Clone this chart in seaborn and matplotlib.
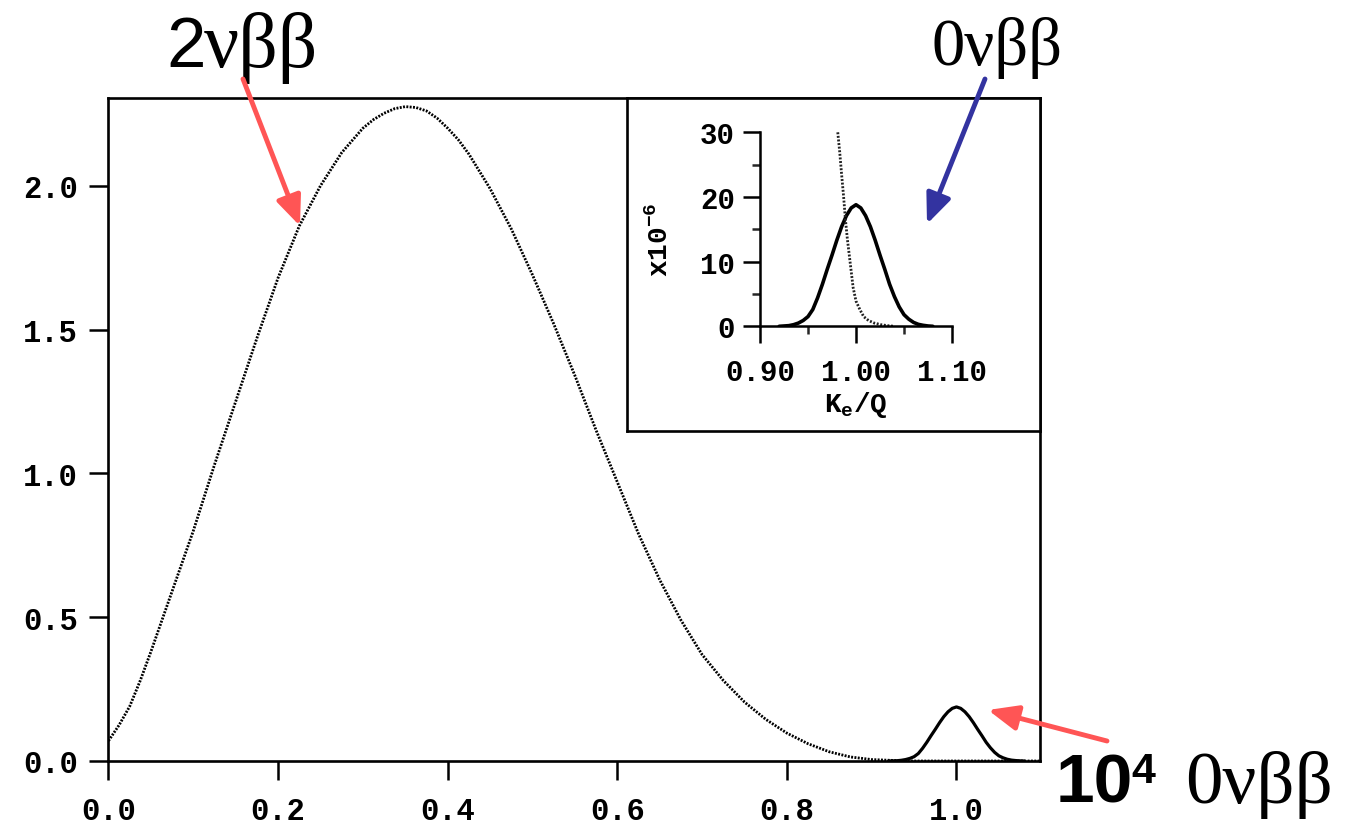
import numpy as np
import pandas as pd
import matplotlib
matplotlib.use("Agg")
import matplotlib.pyplot as plt
import seaborn as sns
from matplotlib.patches import FancyArrowPatch

sns.set_theme(style="ticks")
plt.rcParams['font.family'] = ['Liberation Mono', 'DejaVu Sans']
plt.rcParams['font.weight'] = 'bold'
plt.rcParams['text.color'] = 'black'
plt.rcParams['mathtext.fontset'] = 'custom'
plt.rcParams['mathtext.rm'] = 'Liberation Mono:bold'
plt.rcParams['mathtext.it'] = 'Liberation Mono:bold'
plt.rcParams['mathtext.bf'] = 'Liberation Mono:bold'

# 2vbb sum-energy spectrum (x = K_e/Q)
e_2nu = [0.0, 0.0125, 0.025, 0.0375, 0.05, 0.075, 0.10, 0.125, 0.15, 0.175,
         0.20, 0.225, 0.25, 0.275, 0.30, 0.3125, 0.325, 0.3375, 0.35, 0.3625,
         0.375, 0.3875, 0.40, 0.4125, 0.425, 0.45, 0.475, 0.50, 0.525, 0.55,
         0.575, 0.60, 0.625, 0.65, 0.675, 0.70, 0.725, 0.75, 0.775, 0.80,
         0.825, 0.85, 0.875, 0.90, 0.925, 0.95, 1.0, 1.1]
rate_2nu = [0.07, 0.125, 0.19, 0.28, 0.38, 0.59, 0.80, 1.03, 1.25, 1.47,
            1.68, 1.86, 2.00, 2.115, 2.20, 2.23, 2.252, 2.268, 2.275, 2.272,
            2.26, 2.235, 2.20, 2.16, 2.11, 1.99, 1.85, 1.69, 1.52, 1.34,
            1.15, 0.97, 0.79, 0.63, 0.49, 0.37, 0.28, 0.205, 0.145, 0.097,
            0.06, 0.032, 0.014, 0.005, 0.002, 0.0, 0.0, 0.0]

# 0vbb peak (inset, units of 1e-6)
e_0nu = [0.920, 0.925, 0.930, 0.935, 0.940, 0.945, 0.950, 0.955, 0.960, 0.965,
         0.970, 0.975, 0.980, 0.985, 0.990, 0.995, 1.000, 1.005, 1.010, 1.015,
         1.020, 1.025, 1.030, 1.035, 1.040, 1.045, 1.050, 1.055, 1.060, 1.065,
         1.070, 1.075, 1.080]
rate_0nu = [0.0, 0.05, 0.1, 0.25, 0.5, 0.9, 1.5, 2.6, 4.4, 6.5,
            8.8, 11.0, 13.3, 15.4, 17.1, 18.3, 18.8, 18.3, 17.1, 15.4,
            13.3, 11.0, 8.8, 6.5, 4.6, 3.0, 1.8, 1.1, 0.6, 0.3,
            0.15, 0.05, 0.0]

# smeared 2vbb tail near the endpoint (inset, units of 1e-6)
e_tail = [0.981, 0.983, 0.985, 0.987, 0.989, 0.991, 0.993, 0.995, 0.997, 1.000,
          1.004, 1.008, 1.013, 1.019, 1.026, 1.033, 1.040]
rate_tail = [30.0, 27.0, 23.5, 20.2, 16.5, 13.5, 11.0, 8.5, 6.0, 3.9,
             2.6, 1.5, 0.9, 0.5, 0.25, 0.1, 0.0]

df_2nu = pd.DataFrame({'x': e_2nu, 'y': rate_2nu})
df_0nu = pd.DataFrame({'x': e_0nu, 'y': rate_0nu})
df_main0 = pd.DataFrame({'x': e_0nu, 'y': np.array(rate_0nu) * 1e-6 * 1e4})
df_tail = pd.DataFrame({'x': e_tail, 'y': rate_tail})

W, H = 1353, 829
def fx(px):
    return px / W
def fy(py):
    return 1 - py / H

fig = plt.figure(figsize=(W / 100, H / 100), dpi=100)
fig.patch.set_facecolor('white')

# main panel
ax = fig.add_axes([fx(108.5), fy(762), (1040 - 108.5) / W, (762 - 99) / H])
sns.lineplot(data=df_2nu, x='x', y='y', ax=ax, color='black', lw=2.0,
             linestyle=(0, (0.7, 0.5)), estimator=None)
sns.lineplot(data=df_main0, x='x', y='y', ax=ax, color='black', lw=2.3,
             estimator=None)
ax.set_xlim(0, 1.0985)
ax.set_ylim(0, 2.305)
ax.set_xticks([0.0, 0.2, 0.4, 0.6, 0.8, 1.0])
ax.set_xticklabels(['0.0', '0.2', '0.4', '0.6', '0.8', '1.0'])
ax.set_yticks([0.0, 0.5, 1.0, 1.5, 2.0])
ax.set_yticklabels(['0.0', '0.5', '1.0', '1.5', '2.0'])
ax.set_xlabel('')
ax.set_ylabel('')
for s in ax.spines.values():
    s.set_linewidth(1.9)
    s.set_color('black')
ax.tick_params(axis='both', direction='out', length=14, width=1.8,
               labelsize=22, colors='black')
ax.tick_params(axis='x', pad=11)
ax.tick_params(axis='y', pad=8)

# inset frame
box = fig.add_axes([fx(627), fy(432), (1040 - 627) / W, (432 - 99) / H])
box.set_xticks([])
box.set_yticks([])
box.set_facecolor('white')
for s in box.spines.values():
    s.set_linewidth(1.9)
    s.set_color('black')

# inset plot
ins = fig.add_axes([fx(760), fy(327.3), 192 / W, 194 / H])
ins.set_facecolor('none')
sns.lineplot(data=df_0nu, x='x', y='y', ax=ins, color='black', lw=2.6,
             estimator=None)
sns.lineplot(data=df_tail, x='x', y='y', ax=ins, color='#222222', lw=2.0,
             linestyle=(0, (0.7, 0.6)), estimator=None)
ins.set_xlim(0.9, 1.1)
ins.set_ylim(0, 30)
ins.spines['top'].set_visible(False)
ins.spines['right'].set_visible(False)
for s in ['left', 'bottom']:
    ins.spines[s].set_linewidth(1.8)
    ins.spines[s].set_color('black')
ins.set_xticks([0.90, 1.00, 1.10])
ins.set_xticklabels(['0.90', '1.00', '1.10'])
ins.set_xticks([0.95, 1.05], minor=True)
ins.set_yticks([0, 10, 20, 30])
ins.set_yticklabels(['0', '10', '20', '30'])
ins.set_yticks([5, 15, 25], minor=True)
ins.set_xlabel('')
ins.set_ylabel('')
ins.tick_params(axis='both', which='major', direction='out', length=12,
                width=1.8, labelsize=21, colors='black')
ins.tick_params(axis='both', which='minor', direction='out', length=6,
                width=1.8)
ins.tick_params(axis='x', which='major', pad=11)
ins.tick_params(axis='y', which='major', pad=6)

fig.text(fx(660), fy(240), r'$\mathrm{x10^{-6}}$', rotation=90,
         ha='center', va='center', fontsize=20)
fig.text(fx(856), fy(405), r'$\mathrm{K_e/Q}$', ha='center',
         va='center', fontsize=20)

# labels and arrows
red = '#FF5555'
blue = '#3333A0'
fig.text(fx(166), fy(67), '2', family='Liberation Sans', fontsize=51,
         weight='normal', ha='left', va='baseline')
fig.text(fx(204), fy(67), 'νββ', family='Liberation Serif', fontsize=56,
         weight='normal', ha='left', va='baseline')
fig.text(fx(931), fy(65), '0νββ', family='Liberation Serif', fontsize=48,
         weight='normal', ha='left', va='baseline')
fig.text(fx(1056), fy(803), '10', family='Liberation Sans', fontsize=50,
         weight='bold', ha='left', va='baseline')
fig.text(fx(1131), fy(783), '4', family='Liberation Sans', fontsize=31,
         weight='bold', ha='left', va='baseline')
fig.text(fx(1185), fy(803), '0νββ', family='Liberation Serif', fontsize=54,
         weight='normal', ha='left', va='baseline')

def arrow(p0, p1, color):
    a = FancyArrowPatch((fx(p0[0]), fy(p0[1])), (fx(p1[0]), fy(p1[1])),
                        transform=fig.transFigure, color=color, lw=3.5,
                        arrowstyle='-|>,head_length=0.9,head_width=0.38',
                        mutation_scale=20, shrinkA=0, shrinkB=0, zorder=5)
    fig.add_artist(a)

arrow((243, 80), (300, 227), red)
arrow((985, 80), (927, 225), blue)
arrow((1107, 742), (988, 711), red)

fig.savefig('out.png', dpi=100, facecolor='white')
